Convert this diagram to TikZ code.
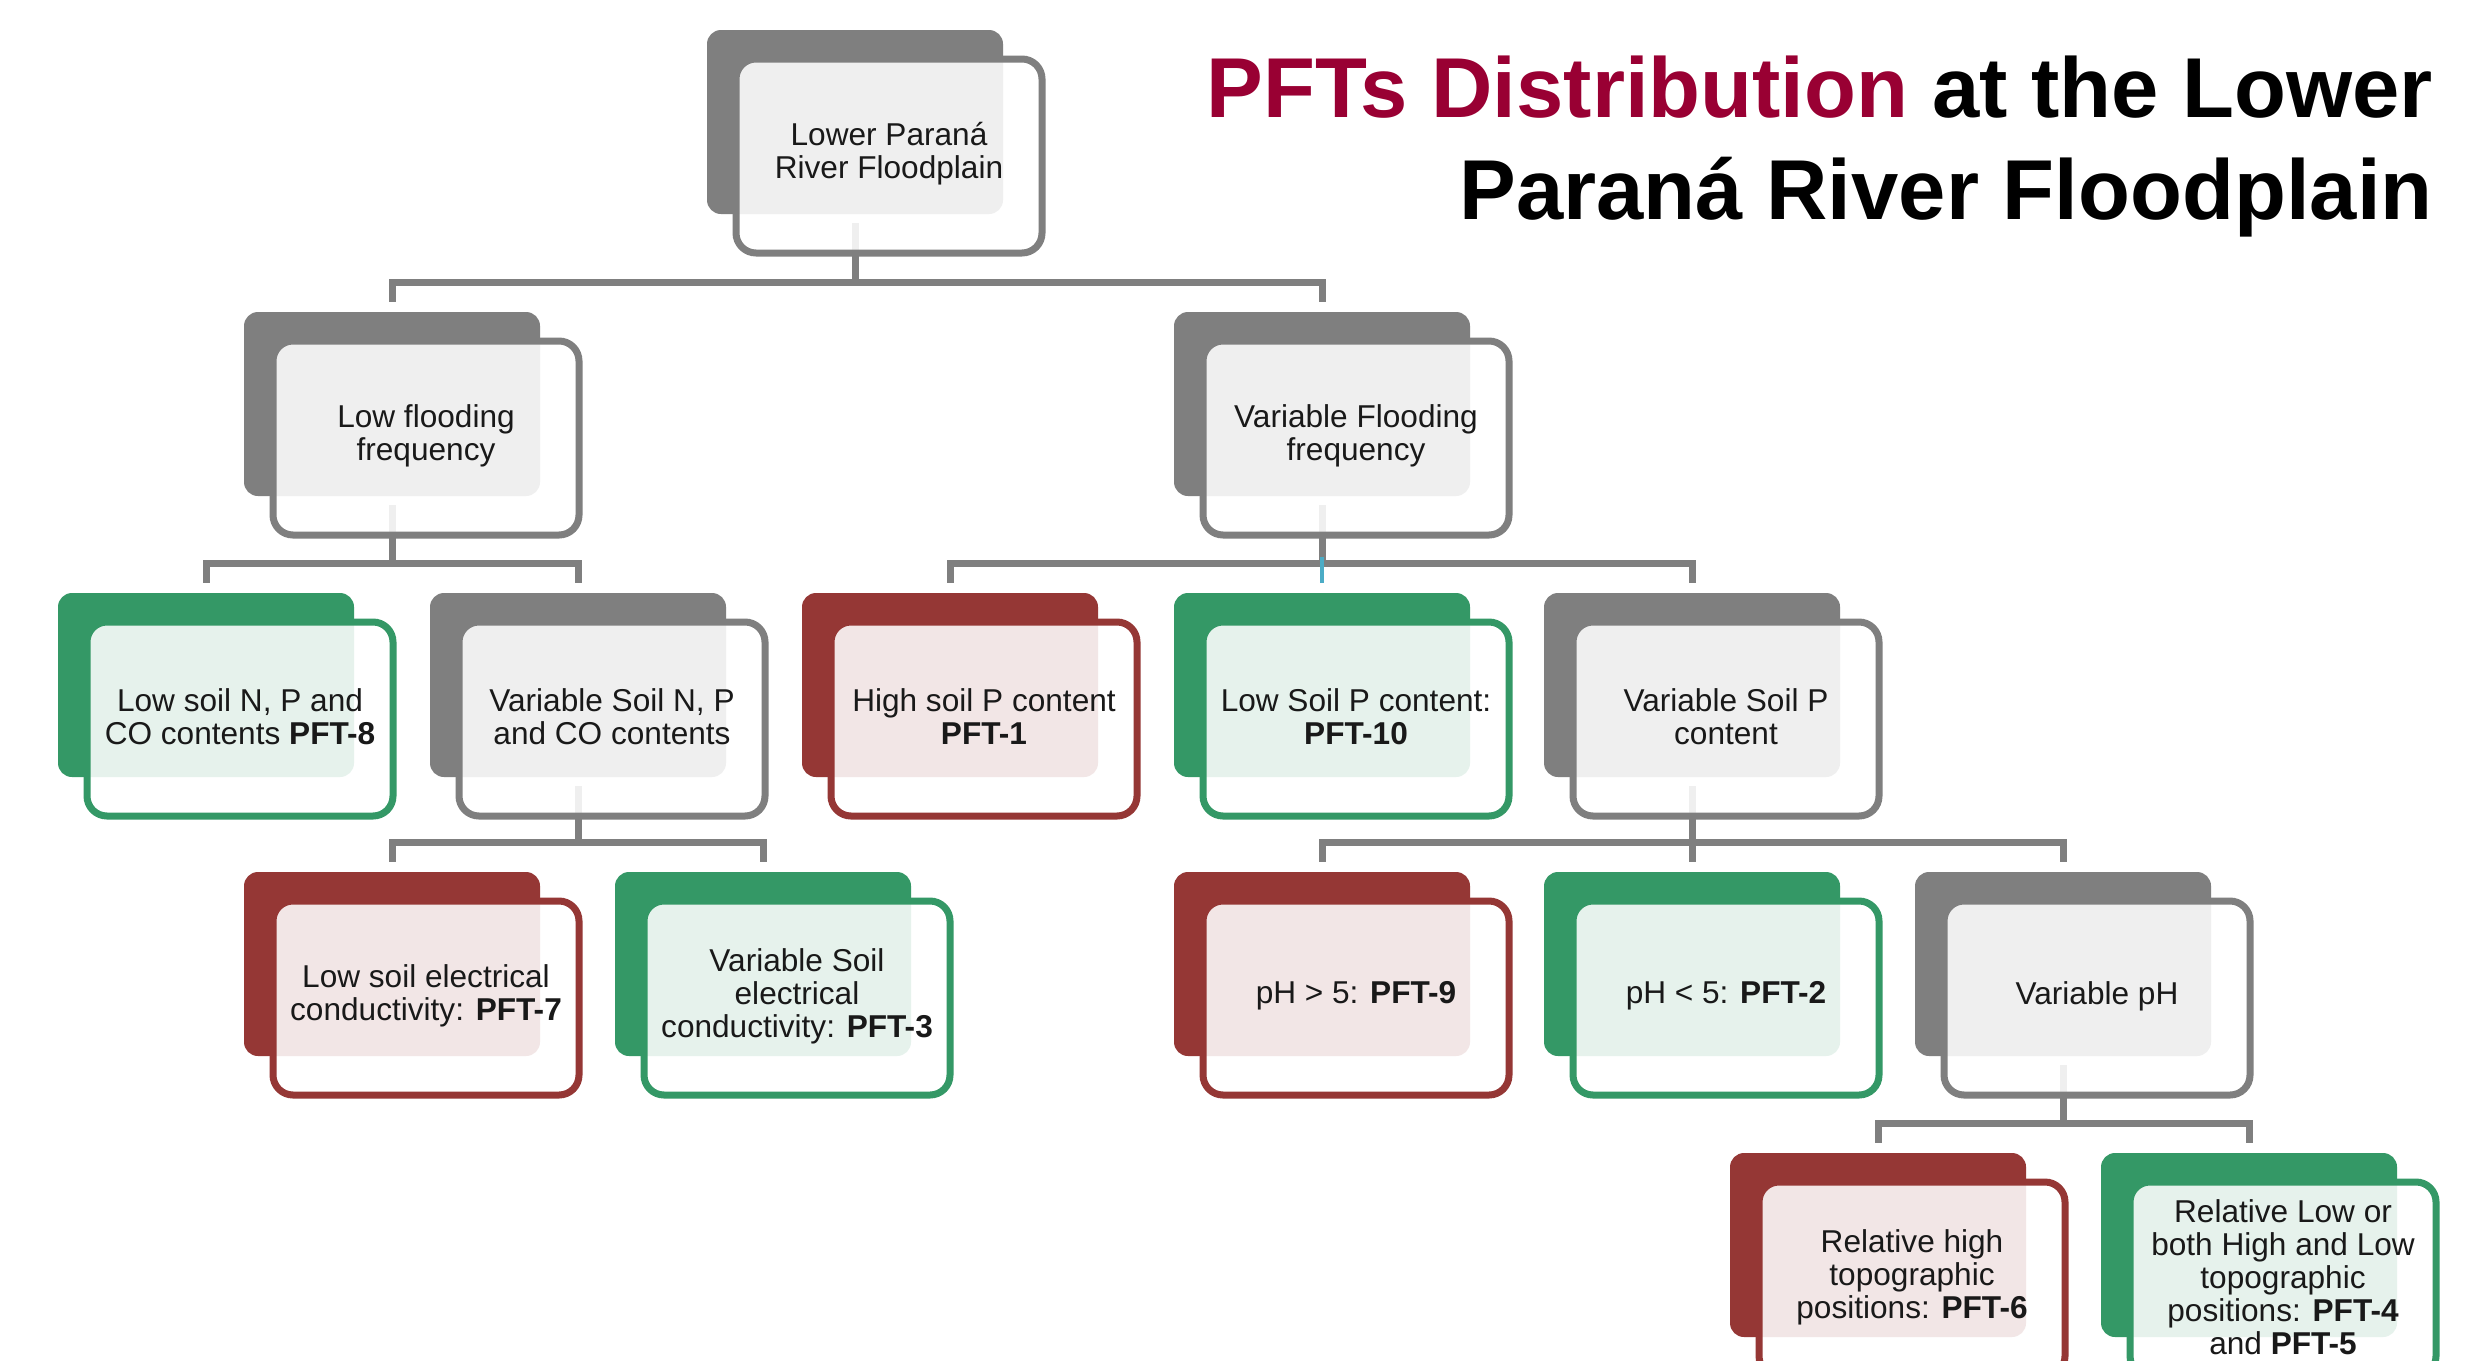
\documentclass[tikz,border=0pt]{standalone}
\usepackage{fontspec}
\setmainfont{Liberation Sans}
\usetikzlibrary{calc}
\definecolor{cgray}{RGB}{127,127,127}
\definecolor{cgreen}{RGB}{52,152,102}
\definecolor{cred}{RGB}{149,55,53}
\definecolor{ctitle}{RGB}{153,0,51}
\definecolor{cblue}{RGB}{75,172,198}
\definecolor{ctext}{RGB}{25,25,25}
\tikzset{
  backbox/.style={fill=#1, rounded corners=7pt, minimum width=148pt, minimum height=92pt,
    anchor=north west, inner sep=0pt, outer sep=0pt},
  frontbox/.style={draw=#1, line width=3.5pt, rounded corners=10pt, fill=white, fill opacity=0.88,
    minimum width=153pt, minimum height=97pt, anchor=north west, inner sep=0pt, outer sep=0pt},
  boxtext/.style={inner sep=0pt, align=center, text=ctext, font=\fontsize{15.8pt}{16.5pt}\selectfont},
  conn/.style={draw=cgray, line width=3.5pt},
  blueconn/.style={draw=cblue, line width=2pt},
  titletext/.style={anchor=base east, inner sep=0pt, font=\fontsize{42.5pt}{42.5pt}\selectfont\bfseries},
}
\newcommand\pftback[4]{\node[backbox=#4] (#1) at (#2,#3) {};}
\newcommand\pftfront[3]{%
  \node[frontbox=#2] (#1f) at ([xshift=14.5pt,yshift=-14.5pt]#1.north west) {};
  \node[boxtext] (#1t) at ([yshift=1pt]#1f.center) {#3};}
\newcommand\pftlink[2]{\draw[conn] ([yshift=-4.5pt]#1.south) -- ($(#1.south|-#2.north)+(0,15pt)$) -| ([yshift=5pt]#2.north);}
\begin{document}
\begin{tikzpicture}[x=0.5pt,y=-0.5pt]
\useasboundingbox (0,0) rectangle (2471,1360);
\clip (0,0) rectangle (2471,1360);
\fill[white] (0,0) rectangle (2471,1360);
% back rectangles
\pftback{A}{707}{30}{cgray}
\pftback{B1}{244}{312}{cgray}
\pftback{B2}{1174}{312}{cgray}
\pftback{C1}{58}{593}{cgreen}
\pftback{C2}{430}{593}{cgray}
\pftback{C3}{802}{593}{cred}
\pftback{C4}{1174}{593}{cgreen}
\pftback{C5}{1544}{593}{cgray}
\pftback{D1}{244}{872}{cred}
\pftback{D2}{615}{872}{cgreen}
\pftback{D3}{1174}{872}{cred}
\pftback{D4}{1544}{872}{cgreen}
\pftback{D5}{1915}{872}{cgray}
\pftback{E1}{1730}{1153}{cred}
\pftback{E2}{2101}{1153}{cgreen}
% connectors
\pftlink{A}{B1}
\pftlink{A}{B2}
\pftlink{B1}{C1}
\pftlink{B1}{C2}
\pftlink{B2}{C3}
\pftlink{B2}{C5}
\draw[conn] ([yshift=-4.5pt]B2.south) -- ($(B2.south|-C4.north)+(0,15pt)$);
\draw[blueconn] ($(C4.north)+(0,18pt)$) -- ([yshift=5pt]C4.north);
\pftlink{C2}{D1}
\pftlink{C2}{D2}
\pftlink{C5}{D3}
\pftlink{C5}{D4}
\pftlink{C5}{D5}
\pftlink{D5}{E1}
\pftlink{D5}{E2}
% front boxes and texts
\pftfront{A}{cgray}{Lower Paraná\\River Floodplain}
\pftfront{B1}{cgray}{Low flooding\\frequency}
\pftfront{B2}{cgray}{Variable Flooding\\frequency}
\pftfront{C1}{cgreen}{Low soil N, P and\\CO contents \textbf{PFT-8}}
\pftfront{C2}{cgray}{Variable Soil N, P\\and CO contents}
\pftfront{C3}{cred}{High soil P content\\\textbf{PFT-1}}
\pftfront{C4}{cgreen}{Low Soil P content:\\\textbf{PFT-10}}
\pftfront{C5}{cgray}{Variable Soil P\\content}
\pftfront{D1}{cred}{Low soil electrical\\conductivity: \textbf{PFT-7}}
\pftfront{D2}{cgreen}{Variable Soil\\electrical\\conductivity: \textbf{PFT-3}}
\pftfront{D3}{cred}{pH > 5: \textbf{PFT-9}}
\pftfront{D4}{cgreen}{pH < 5: \textbf{PFT-2}}
\pftfront{D5}{cgray}{Variable pH}
\pftfront{E1}{cred}{Relative high\\topographic\\positions: \textbf{PFT-6}}
\pftfront{E2}{cgreen}{Relative Low or\\both High and Low\\topographic\\positions: \textbf{PFT-4}\\and \textbf{PFT-5}}
% title
\node[titletext] (t1) at (2433,117) {\textcolor{ctitle}{PFTs Distribution} at the Lower};
\node[titletext] (t2) at (2433,219) {Paraná River Floodplain};
\end{tikzpicture}
\end{document}
